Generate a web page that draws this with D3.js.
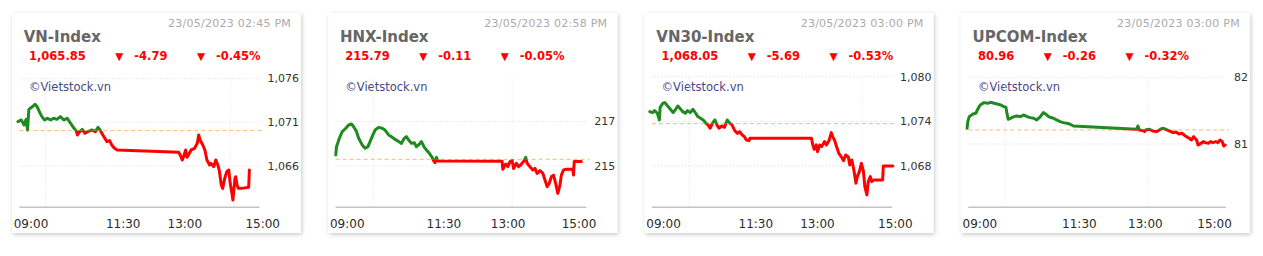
<!DOCTYPE html>
<html>
<head>
<meta charset="utf-8">
<script src="https://cdn.jsdelivr.net/npm/d3@7"></script>
<style>
  body { margin: 0; background: #fff; }
  svg { display: block; font-family: "DejaVu Sans", Verdana, sans-serif; }
</style>
</head>
<body>
<svg id="chart" width="1263" height="256"></svg>
<script>
// ---- data ----
const indexNames = ["VN-Index", "HNX-Index", "VN30-Index", "UPCOM-Index"];
const stamps = ["23/05/2023 02:45 PM", "23/05/2023 02:58 PM", "23/05/2023 03:00 PM", "23/05/2023 03:00 PM"];
const lastValues = [1065.85, 215.79, 1068.05, 80.96];
const changes = [-4.79, -0.11, -5.69, -0.26];
const changePct = [-0.45, -0.05, -0.53, -0.32];
const refValues = [1070.03, 215.30, 1073.69, 81.21];
const yTicks = [[1066, 1071, 1076], [215, 217], [1068, 1074, 1080], [81, 82]];
const yDomains = [[1061.29, 1076], [213.14, 218.95], [1062.44, 1079.79], [80.05, 81.985]];
const xTickLabels = ["09:00", "11:30", "13:00", "15:00"];
const gridTimes = [["09:45", "14:15"], ["10:00", "13:14"], ["10:02", "14:14"], ["09:57", "13:12"]];

const vnTimes = ["09:05","09:10","09:14","09:17","09:19","09:21","09:25","09:30","09:33","09:37","09:40","09:44","09:48","09:53","09:57","10:02","10:07","10:12","10:17","10:22","10:27","10:30","10:32","10:35","10:39","10:43","10:47","10:53","10:58","11:02","11:05","11:09","11:12","11:15","11:19","11:22","11:26","11:30","13:00","13:02","13:05","13:07","13:10","13:12","13:14","13:18","13:23","13:27","13:29","13:31","13:35","13:38","13:41","13:45","13:47","13:51","13:54","13:57","13:59","14:02","14:04","14:07","14:10","14:13","14:15","14:18","14:19","14:22","14:23","14:25","14:27","14:32","14:42","14:43"];
const vnValues = [1071.06,1071.25,1070.68,1071.32,1070.11,1072.46,1072.69,1073.03,1072.77,1072.08,1071.63,1071.25,1071.44,1071.25,1071.44,1071.32,1071.63,1071.25,1071.44,1070.87,1070.30,1070.03,1069.54,1069.92,1070.18,1069.73,1069.92,1070.11,1069.92,1070.41,1070.11,1069.54,1069.16,1068.78,1068.89,1068.40,1068.02,1067.83,1067.56,1067.25,1066.68,1067.06,1067.83,1066.99,1067.25,1067.83,1068.02,1068.59,1069.54,1068.97,1068.40,1067.83,1066.68,1066.11,1066.30,1065.92,1066.68,1066.11,1065.54,1063.83,1063.45,1064.59,1065.35,1065.54,1064.02,1062.69,1062.12,1064.59,1064.78,1063.83,1063.45,1063.45,1063.57,1065.54];

const hnxTimes = ["09:07","09:08","09:12","09:16","09:21","09:25","09:29","09:32","09:36","09:39","09:44","09:48","09:52","09:55","09:59","10:02","10:07","10:12","10:16","10:21","10:25","10:30","10:35","10:39","10:43","10:46","10:49","10:53","10:57","11:00","11:03","11:07","11:11","11:14","11:18","11:22","11:24","11:26","11:28","11:30","13:00","13:01","13:05","13:08","13:11","13:14","13:16","13:20","13:23","13:26","13:30","13:33","13:35","13:39","13:43","13:46","13:49","13:53","13:57","14:00","14:03","14:06","14:09","14:12","14:15","14:18","14:21","14:23","14:26","14:30","14:39","14:40","14:41","14:51"];
const hnxValues = [215.50,215.87,216.25,216.55,216.70,216.85,216.89,216.77,216.55,216.25,215.95,215.80,215.87,216.10,216.40,216.62,216.74,216.70,216.62,216.40,216.32,216.20,216.10,216.02,216.25,216.32,216.17,216.02,216.05,215.87,215.95,216.10,215.84,215.72,215.57,215.39,215.24,215.15,215.39,215.22,215.21,214.85,215.09,214.97,215.20,215.24,214.89,215.12,214.97,215.05,215.20,215.39,215.12,214.97,214.82,214.89,214.67,214.79,214.67,214.37,214.07,214.22,214.52,214.59,214.22,213.77,214.14,214.59,214.82,214.85,214.85,214.59,215.20,215.20];

const vn30Times = ["09:04","09:08","09:11","09:15","09:18","09:19","09:23","09:26","09:30","09:34","09:38","09:41","09:45","09:49","09:52","09:56","09:59","10:03","10:07","10:11","10:14","10:18","10:22","10:26","10:29","10:32","10:36","10:39","10:42","10:45","10:49","10:53","10:57","11:00","11:04","11:08","11:12","11:15","11:19","11:22","11:25","11:29","11:30","13:00","13:02","13:04","13:07","13:09","13:12","13:15","13:19","13:22","13:26","13:29","13:31","13:34","13:37","13:40","13:44","13:47","13:50","13:54","13:56","13:59","14:02","14:05","14:07","14:10","14:13","14:16","14:18","14:21","14:23","14:26","14:28","14:31","14:44","14:45","14:59"];
const vn30Values = [1075.31,1075.17,1075.44,1075.09,1074.19,1075.89,1076.43,1076.52,1076.07,1075.62,1075.17,1075.53,1076.07,1075.62,1075.31,1075.09,1075.44,1075.17,1075.62,1075.09,1074.64,1074.41,1074.19,1073.74,1073.52,1073.07,1073.83,1074.19,1073.52,1073.07,1073.38,1073.20,1074.19,1073.83,1073.52,1072.75,1072.39,1072.62,1072.17,1071.95,1071.50,1071.41,1071.72,1071.72,1070.83,1070.24,1070.83,1069.93,1070.83,1070.60,1071.27,1070.83,1071.50,1072.48,1071.95,1071.41,1070.51,1069.70,1069.17,1068.72,1069.48,1069.17,1068.13,1068.81,1067.46,1065.67,1066.57,1067.24,1068.36,1067.24,1065.22,1064.10,1065.89,1066.57,1065.89,1066.12,1066.12,1068.00,1068.00];

const upcomTimes = ["09:05","09:06","09:08","09:13","09:17","09:19","09:22","09:25","09:28","09:33","09:37","09:42","09:46","09:51","09:55","09:58","09:59","10:01","10:04","10:09","10:13","10:18","10:22","10:27","10:31","10:36","10:40","10:45","10:49","10:52","10:55","10:58","11:03","11:07","11:12","11:16","11:21","11:25","11:30","12:56","12:58","13:00","13:05","13:07","13:09","13:14","13:18","13:23","13:26","13:29","13:33","13:36","13:40","13:43","13:46","13:50","13:54","13:58","14:01","14:04","14:08","14:11","14:14","14:18","14:20","14:23","14:27","14:30","14:34","14:37","14:40","14:44","14:47","14:50","14:53","14:55","14:57"];
const upcomValues = [81.235,81.335,81.41,81.45,81.46,81.51,81.57,81.60,81.62,81.61,81.625,81.61,81.60,81.585,81.56,81.55,81.485,81.37,81.385,81.41,81.42,81.41,81.435,81.41,81.395,81.385,81.36,81.41,81.47,81.45,81.42,81.40,81.385,81.36,81.335,81.32,81.31,81.30,81.27,81.22,81.27,81.21,81.20,81.185,81.215,81.22,81.195,81.185,81.20,81.225,81.235,81.22,81.20,81.185,81.17,81.18,81.15,81.16,81.135,81.11,81.085,81.06,81.11,81.06,80.985,81.00,81.035,81.02,81.01,81.035,81.02,81.035,81.02,81.06,81.035,80.97,80.985];

const seriesTimes = [vnTimes, hnxTimes, vn30Times, upcomTimes];
const seriesValues = [vnValues, hnxValues, vn30Values, upcomValues];

// ---- drawing ----
const parseT = d3.timeParse("%H:%M");
// plain hyphen for the minus sign, like the site
const locale = d3.formatLocale({decimal: ".", thousands: ",", grouping: [3], currency: ["", ""], minus: "-"});
const fmtTick = locale.format(",.0f");
const fmtVal = locale.format(",.2f");
const green = "#1f8a1f", red = "#ff0000";
const cardW = 289, cardH = 220;

const svg = d3.select("#chart");
const defs = svg.append("defs");
defs.append("filter")
    .attr("id", "shadow")
    .attr("x", "-5%").attr("y", "-5%")
    .attr("width", "112%").attr("height", "114%")
  .append("feDropShadow")
    .attr("dx", 1).attr("dy", 1.5)
    .attr("stdDeviation", 2)
    .attr("flood-color", "#000")
    .attr("flood-opacity", 0.22);

indexNames.forEach((name, i) => {
  const g = svg.append("g")
      .attr("transform", `translate(${12 + i * 316.3}, 13)`);

  g.append("rect")
      .attr("width", cardW).attr("height", cardH)
      .attr("fill", "#fff")
      .attr("filter", "url(#shadow)");

  // header
  g.append("text")
      .attr("x", 279).attr("y", 13.5)
      .attr("text-anchor", "end")
      .style("font-size", "11px").style("letter-spacing", "0.25px")
      .attr("fill", "#aaa")
      .text(stamps[i]);

  g.append("text")
      .attr("x", 11.7).attr("y", 28.7)
      .style("font-size", "15px").style("font-weight", "bold")
      .attr("fill", "#666")
      .text(name);

  // red row: value, change, percent
  let cx = 17;
  const row = g.append("g").attr("fill", red)
      .style("font-weight", "bold").style("font-size", "11.5px");
  const items = [fmtVal(lastValues[i]), fmtVal(changes[i]), fmtVal(changePct[i]) + "%"];
  items.forEach((s, k) => {
    if (k > 0) {
      row.append("text").attr("x", cx - 1).attr("y", 46.5)
          .style("font-size", "10.5px").text("\u25BC");
      cx += 18;
    }
    const t = row.append("text").attr("x", cx).attr("y", 47).text(s);
    cx += t.node().getComputedTextLength() + 30.5;
  });

  // watermark
  g.append("text")
      .attr("x", 17).attr("y", 77.5)
      .style("font-size", "11.5px")
      .attr("fill", "#474786")
      .text("\u00A9Vietstock.vn");

  // y labels first, so the plot width can follow their width
  const top = 65.3, bottom = 194.3, left = 7.3;
  const y = d3.scaleLinear().domain(yDomains[i]).range([bottom, top]);
  const yl = g.append("g")
      .style("font-size", "11px").attr("fill", "#333");
  let maxW = 0;
  yTicks[i].forEach(v => {
    const t = yl.append("text")
        .attr("x", 287).attr("y", y(v))
        .attr("dy", "0.35em")
        .attr("text-anchor", "end")
        .text(fmtTick(v));
    maxW = Math.max(maxW, t.node().getComputedTextLength());
  });
  const right = 287 - maxW - 8;

  const x = d3.scaleTime()
      .domain([parseT("09:00"), parseT("15:00")])
      .range([2.5, right + 1.5]);

  // grid
  g.append("g").selectAll("line.h")
    .data(yTicks[i])
    .join("line")
      .attr("x1", left).attr("x2", right)
      .attr("y1", d => y(d)).attr("y2", d => y(d))
      .attr("stroke", "#dcdcdc").attr("stroke-dasharray", "1,2");
  g.append("g").selectAll("line.v")
    .data(gridTimes[i])
    .join("line")
      .attr("x1", d => x(parseT(d))).attr("x2", d => x(parseT(d)))
      .attr("y1", top).attr("y2", bottom)
      .attr("stroke", "#e2e2e2").attr("stroke-dasharray", "1,2");

  // bottom axis line
  g.append("line")
      .attr("x1", left).attr("x2", right)
      .attr("y1", bottom).attr("y2", bottom)
      .attr("stroke", "#c4c4c4").attr("stroke-width", 1.5);

  // x labels
  const xl = g.append("g")
      .style("font-size", "12px").attr("fill", "#2b2b2b");
  xTickLabels.forEach(s => {
    const t = xl.append("text").attr("y", 214.5).attr("text-anchor", "middle").text(s);
    const w = t.node().getComputedTextLength();
    let c = x(parseT(s)) + 6;
    c = Math.max(c, 1.7 + w / 2);
    c = Math.min(c, Math.max(right + 6, 268) - w / 2);
    t.attr("x", c);
  });

  // reference (previous close)
  const ry = y(refValues[i]);
  g.append("line")
      .attr("x1", left).attr("x2", right + 3)
      .attr("y1", ry).attr("y2", ry)
      .attr("stroke", "#ffb870").attr("stroke-dasharray", "4,3");

  // price line, green above the reference, red below
  const data = seriesTimes[i].map((s, k) => ({t: parseT(s), v: seriesValues[i][k]}));
  const line = d3.line().x(d => x(d.t)).y(d => y(d.v));

  defs.append("clipPath").attr("id", "up" + i)
    .append("rect").attr("x", 0).attr("y", 0).attr("width", cardW).attr("height", ry);
  defs.append("clipPath").attr("id", "down" + i)
    .append("rect").attr("x", 0).attr("y", ry).attr("width", cardW).attr("height", cardH - ry);

  [["up", green], ["down", red]].forEach(([id, col]) => {
    g.append("path")
        .datum(data)
        .attr("d", line)
        .attr("fill", "none")
        .attr("stroke", col)
        .attr("stroke-width", 3)
        .attr("stroke-linejoin", "round")
        .attr("stroke-linecap", "round")
        .attr("clip-path", `url(#${id}${i})`);
  });
});
</script>
</body>
</html>
